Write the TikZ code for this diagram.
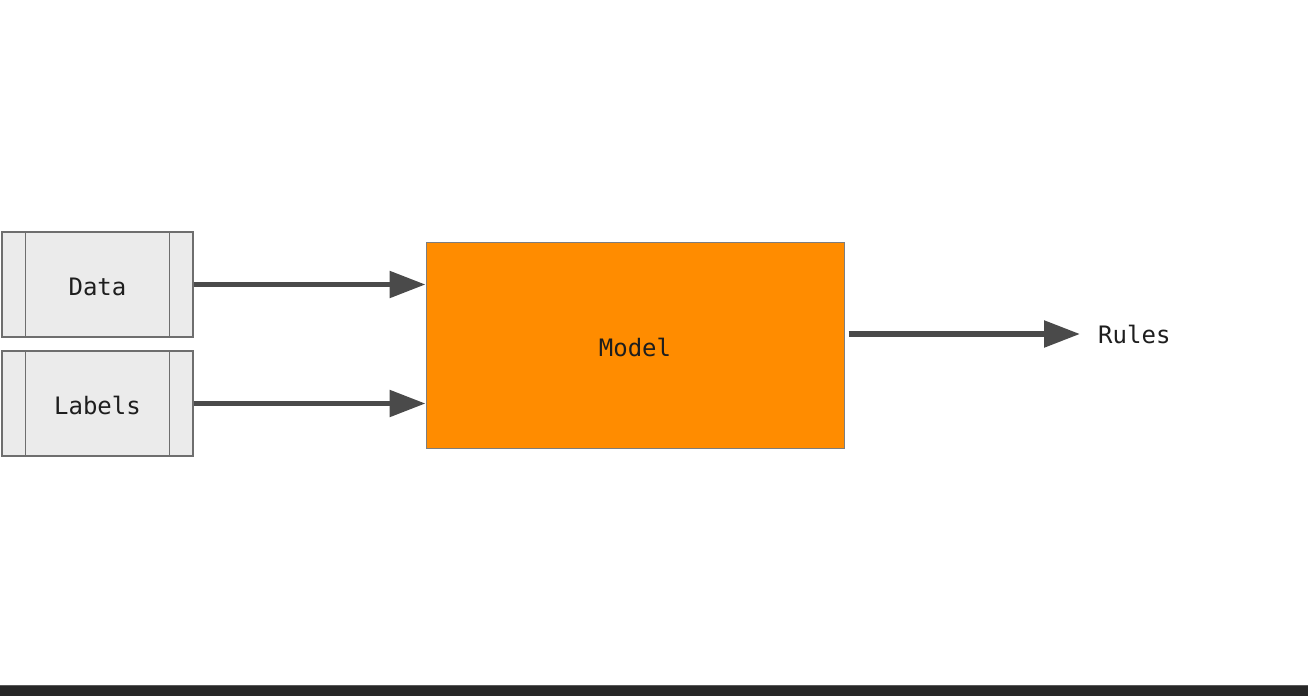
\documentclass[tikz,border=0pt]{standalone}
\usepackage{fontspec}
\setmonofont{DejaVu Sans Mono}
\usetikzlibrary{arrows.meta}
\definecolor{boxfill}{HTML}{EBEBEB}
\definecolor{boxline}{HTML}{6E6E6E}
\definecolor{modelfill}{HTML}{FF8C00}
\definecolor{arrowcol}{HTML}{4A4A4A}
\definecolor{barcol}{HTML}{272727}
\definecolor{txt}{HTML}{1E1E1E}
\tikzset{
  txtfont/.style={font=\ttfamily\fontsize{24}{28}\selectfont, text=txt},
  inbox/.style={draw=boxline, line width=1.4pt, fill=boxfill, minimum width=191pt, minimum height=105pt, inner sep=0pt, text height=22pt, text depth=0pt, txtfont},
  modelbox/.style={draw=boxline!90, line width=1pt, fill=modelfill, minimum width=418pt, minimum height=206pt, inner sep=0pt, text height=22pt, text depth=0pt, txtfont},
  flow/.style={draw=arrowcol, line width=5.5pt, -{Triangle[length=36pt,width=26pt]}},
  plain/.style={inner sep=0pt, txtfont}
}
\begin{document}
\begin{tikzpicture}[x=1pt,y=-1pt]
\useasboundingbox[fill=white] (0,0) rectangle (1308,696);
\node[inbox] (data) at (97.5,284.5) {Data};
\node[inbox] (labels) at (97.5,403.5) {Labels};
\foreach \n in {data,labels}{
  \draw[boxline, line width=1.4pt] ([xshift=24pt]\n.north west) -- ([xshift=24pt]\n.south west);
  \draw[boxline, line width=1.4pt] ([xshift=-24pt]\n.north east) -- ([xshift=-24pt]\n.south east);
}
\node[modelbox] (model) at (635,345) {Model};
\node[plain, anchor=west] (rules) at (1098,334) {Rules};
\draw[flow] (data.east) -- (data.east -| model.west);
\draw[flow] (labels.east) -- (labels.east -| model.west);
\draw[flow] ([xshift=4pt]model.east |- rules.west) -- ([xshift=-18pt]rules.west);
\fill[barcol] (0,685) rectangle (1308,696);
\draw[gray!70!black, line width=0.8pt] (0,685.4) -- (1308,685.4);
\end{tikzpicture}
\end{document}
